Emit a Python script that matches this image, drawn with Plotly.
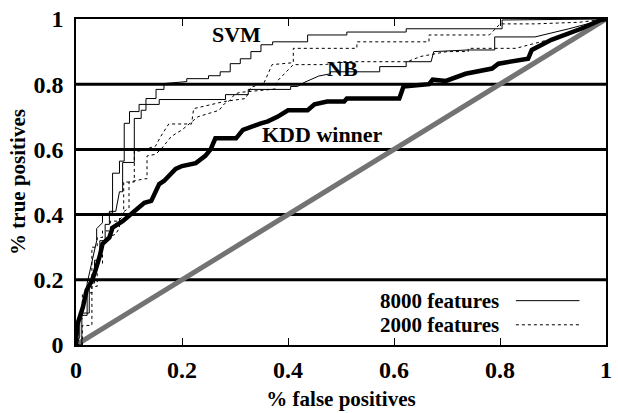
import plotly.graph_objects as go

# ---------------- data ----------------
tick_vals = [0, 0.2, 0.4, 0.6, 0.8, 1]
tick_text = ["0", "0.2", "0.4", "0.6", "0.8", "1"]
grid_vals = [0.2, 0.4, 0.6, 0.8]

diag_x = [0, 1]
diag_y = [0, 1]

kdd_x = [0, 0.002, 0.013, 0.02, 0.03, 0.035, 0.045, 0.05, 0.063, 0.069, 0.088, 0.106, 0.119, 0.129,
         0.142, 0.151, 0.157, 0.166, 0.175, 0.188, 0.2, 0.226, 0.244, 0.254, 0.263, 0.302, 0.315,
         0.33, 0.349, 0.362, 0.38, 0.40, 0.437, 0.45, 0.474, 0.506, 0.511, 0.61, 0.618, 0.666,
         0.673, 0.698, 0.735, 0.785, 0.797, 0.853, 0.86, 0.897, 0.927, 0.953, 0.99, 1]
kdd_y = [0, 0.06, 0.116, 0.168, 0.198, 0.22, 0.274, 0.31, 0.33, 0.36, 0.38, 0.405, 0.42, 0.436,
         0.442, 0.473, 0.494, 0.503, 0.518, 0.54, 0.549, 0.558, 0.58, 0.6, 0.634, 0.634, 0.66,
         0.67, 0.68, 0.686, 0.70, 0.72, 0.72, 0.738, 0.747, 0.747, 0.756, 0.756, 0.793, 0.80,
         0.814, 0.81, 0.832, 0.848, 0.863, 0.878, 0.905, 0.936, 0.954, 0.97, 0.997, 1]

svm8000_x = [0, 0.007, 0.007, 0.021, 0.021, 0.03, 0.039, 0.039, 0.05, 0.05, 0.069, 0.069, 0.082,
             0.082, 0.091, 0.091, 0.101, 0.101, 0.119, 0.119, 0.132, 0.132, 0.151, 0.151, 0.166,
             0.166, 0.209, 0.209, 0.25, 0.25, 0.272, 0.272, 0.291, 0.291, 0.31, 0.31, 0.33, 0.33,
             0.349, 0.349, 0.371, 0.371, 0.437, 0.437, 0.511, 0.511, 0.623, 0.623, 0.804, 0.804, 1]
svm8000_y = [0, 0.024, 0.091, 0.091, 0.189, 0.25, 0.32, 0.357, 0.375, 0.402, 0.405, 0.527, 0.527,
             0.564, 0.564, 0.68, 0.68, 0.716, 0.716, 0.738, 0.738, 0.756, 0.756, 0.784, 0.784,
             0.802, 0.808, 0.817, 0.817, 0.826, 0.826, 0.838, 0.838, 0.863, 0.863, 0.878, 0.878,
             0.9, 0.9, 0.921, 0.921, 0.93, 0.93, 0.951, 0.951, 0.96, 0.96, 0.97, 0.97, 0.997, 1]

nb8000_x = [0, 0.011, 0.011, 0.025, 0.025, 0.035, 0.035, 0.045, 0.045, 0.055, 0.055, 0.063, 0.063,
            0.075, 0.082, 0.088, 0.088, 0.11, 0.11, 0.123, 0.123, 0.132, 0.132, 0.157, 0.157, 0.282,
            0.282, 0.325, 0.325, 0.405, 0.405, 0.418, 0.43, 0.445, 0.458, 0.48, 0.48, 0.573, 0.573,
            0.623, 0.623, 0.67, 0.675, 0.74, 0.79, 0.79, 0.866, 0.93, 1]
nb8000_y = [0, 0, 0.098, 0.098, 0.19, 0.19, 0.26, 0.26, 0.32, 0.32, 0.37, 0.37, 0.41, 0.41, 0.47,
            0.47, 0.56, 0.56, 0.695, 0.695, 0.72, 0.72, 0.738, 0.738, 0.753, 0.753, 0.768, 0.768,
            0.784, 0.784, 0.793, 0.793, 0.805, 0.815, 0.825, 0.832, 0.838, 0.838, 0.854, 0.854,
            0.869, 0.869, 0.9, 0.905, 0.905, 0.945, 0.945, 0.97, 1]

svm2000_x = [0, 0.004, 0.004, 0.012, 0.012, 0.03, 0.03, 0.04, 0.04, 0.05, 0.05, 0.065, 0.065, 0.08,
             0.09, 0.09, 0.11, 0.11, 0.12, 0.13, 0.15, 0.16, 0.175, 0.218, 0.222, 0.28, 0.32, 0.33,
             0.355, 0.37, 0.41, 0.41, 0.53, 0.53, 0.666, 0.666, 0.78, 0.8, 0.865, 0.95, 1]
svm2000_y = [0, 0, 0.08, 0.08, 0.16, 0.16, 0.3, 0.3, 0.33, 0.33, 0.35, 0.35, 0.38, 0.38, 0.40, 0.5,
             0.5, 0.595, 0.595, 0.6, 0.61, 0.64, 0.678, 0.678, 0.725, 0.747, 0.756, 0.79, 0.805,
             0.86, 0.866, 0.91, 0.91, 0.93, 0.93, 0.951, 0.951, 0.985, 0.985, 0.99, 1]

nb2000_x = [0, 0.012, 0.012, 0.03, 0.03, 0.04, 0.04, 0.05, 0.05, 0.06, 0.06, 0.075, 0.082, 0.082,
            0.1, 0.1, 0.13, 0.134, 0.134, 0.15, 0.16, 0.18, 0.2, 0.23, 0.27, 0.28, 0.29, 0.3, 0.31,
            0.35, 0.375, 0.38, 0.41, 0.47, 0.5, 0.625, 0.65, 0.7, 0.74, 0.74, 0.83, 0.9, 1]
nb2000_y = [0, 0, 0.06, 0.06, 0.18, 0.18, 0.25, 0.25, 0.32, 0.32, 0.33, 0.34, 0.36, 0.4, 0.42,
            0.5, 0.51, 0.51, 0.58, 0.585, 0.6, 0.64, 0.66, 0.7, 0.72, 0.74, 0.75, 0.77, 0.775,
            0.78, 0.785, 0.81, 0.86, 0.86, 0.869, 0.869, 0.885, 0.9, 0.9, 0.91, 0.91, 0.94, 1]

curve_labels = ["SVM", "NB", "KDD winner"]
label_x = [0.302, 0.502, 0.466]
label_y = [0.954, 0.848, 0.646]
legend_labels = ["8000 features", "2000 features"]

# ---------------- figure ----------------
FONT = "Liberation Serif"
fig = go.Figure()

fig.add_trace(go.Scatter(x=diag_x, y=diag_y, mode="lines",
                         line=dict(color="#737373", width=5), showlegend=False))
fig.add_trace(go.Scatter(x=kdd_x, y=kdd_y, mode="lines",
                         line=dict(color="black", width=4.5), showlegend=False))
for xs, ys, dash in [(nb2000_x, nb2000_y, "dot"), (svm2000_x, svm2000_y, "dot"),
                     (nb8000_x, nb8000_y, "solid"), (svm8000_x, svm8000_y, "solid")]:
    fig.add_trace(go.Scatter(x=xs, y=ys, mode="lines",
                             line=dict(color="black", width=1, dash=dash), showlegend=False))

for g in grid_vals:
    fig.add_shape(type="line", xref="x", yref="y", x0=0, x1=1, y0=g, y1=g,
                  line=dict(color="black", width=3), layer="below")

for t, x, y in zip(curve_labels, label_x, label_y):
    fig.add_annotation(x=x, y=y, text=t, showarrow=False, xref="x", yref="y",
                       font=dict(family=FONT, size=22, color="black", weight="bold"))

# legend (text left, line sample right)
leg_y = [0.136, 0.062]
for t, ly, dash in zip(legend_labels, leg_y, ["solid", "dot"]):
    fig.add_annotation(x=0.802, y=ly, text=t, showarrow=False, xref="x", yref="y",
                       xanchor="right", yanchor="middle",
                       font=dict(family=FONT, size=21, color="black", weight="bold"))
    fig.add_shape(type="line", xref="x", yref="y", x0=0.83, x1=0.95, y0=ly, y1=ly,
                  line=dict(color="black", width=1, dash=dash))

axis_common = dict(range=[0, 1], tickvals=tick_vals, ticktext=tick_text,
                   showgrid=False, zeroline=False, showline=True, linecolor="black",
                   linewidth=1.5, mirror="ticks", ticks="inside", ticklen=7,
                   tickcolor="black", tickwidth=1,
                   tickfont=dict(family=FONT, size=24, color="black", weight="bold"))

fig.update_layout(
    width=618, height=413,
    margin=dict(l=76, r=6, t=17, b=68),
    paper_bgcolor="white", plot_bgcolor="white",
    xaxis=dict(**axis_common, ticklabelstandoff=2,
               title=dict(text="% false positives", standoff=10,
                          font=dict(family=FONT, size=21, color="black", weight="bold"))),
    yaxis=dict(**axis_common, ticklabelstandoff=6,
               title=dict(text="% true positives", standoff=2,
                          font=dict(family=FONT, size=21, color="black", weight="bold"))),
)

fig.write_html("out.html")
